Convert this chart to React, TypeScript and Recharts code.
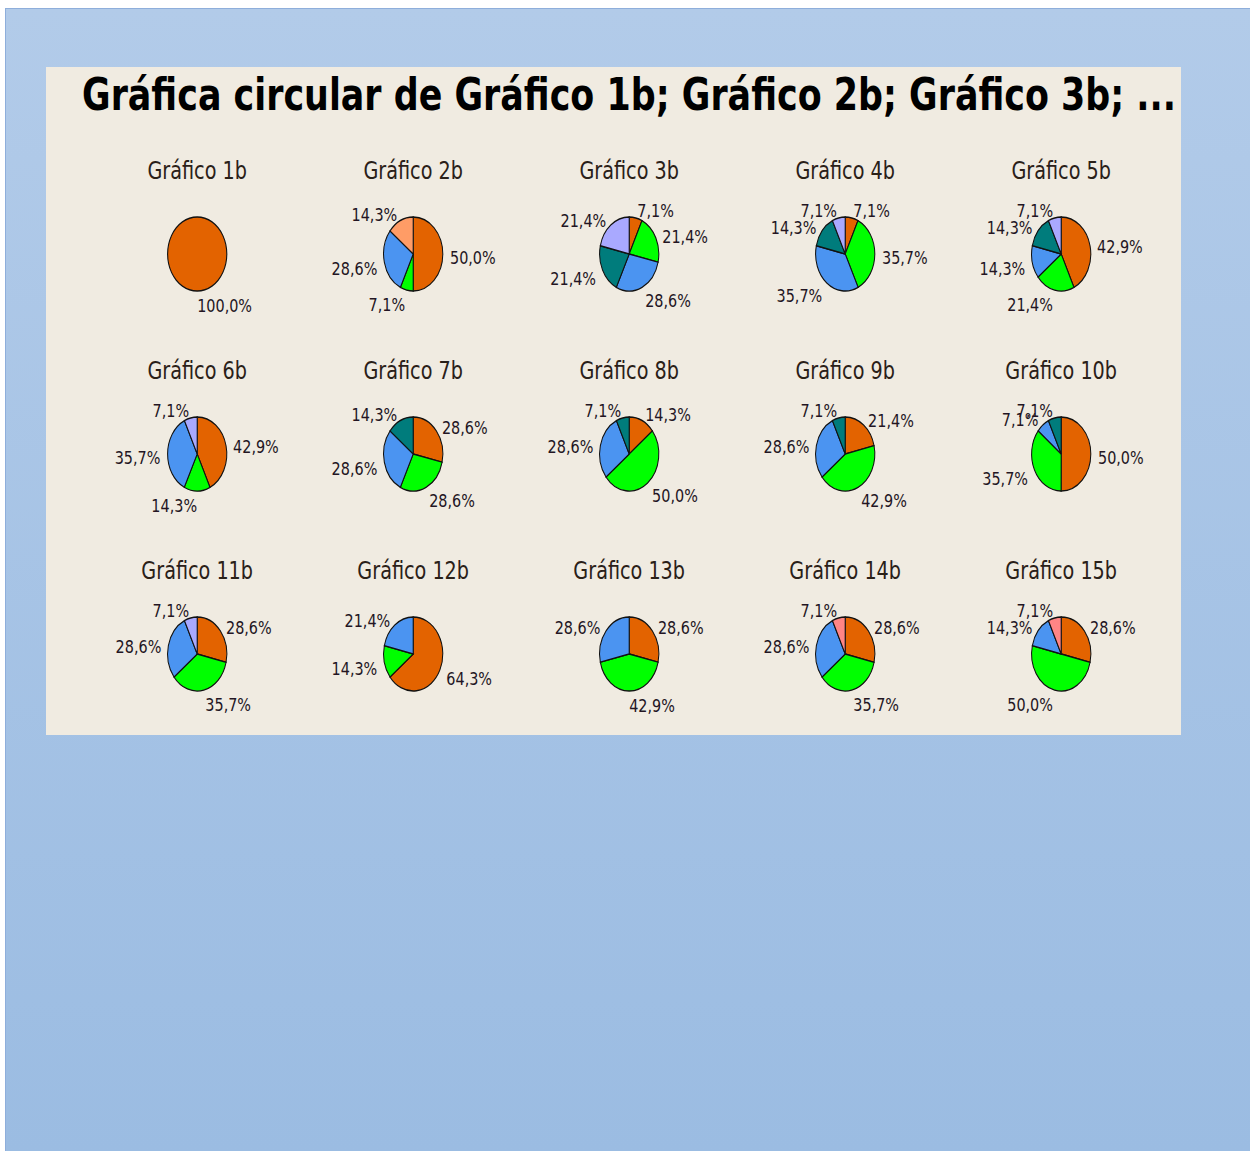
import { PieChart, Pie, Cell } from 'recharts'

// slice colours (Minitab-like palette), keyed by category
const COLORS: Record<string, string> = {
  o: '#e36300', // orange
  g: '#00ff00', // green
  b: '#4b94f1', // blue
  t: '#007c7c', // teal
  l: '#a9a9ff', // lavender
  p: '#ff9c66', // peach
  r: '#ff8585', // pink
}

const titles = [
  'Gráfico 1b', 'Gráfico 2b', 'Gráfico 3b', 'Gráfico 4b', 'Gráfico 5b',
  'Gráfico 6b', 'Gráfico 7b', 'Gráfico 8b', 'Gráfico 9b', 'Gráfico 10b',
  'Gráfico 11b', 'Gráfico 12b', 'Gráfico 13b', 'Gráfico 14b', 'Gráfico 15b',
]

// categories of each pie, in drawing order (clockwise from 12 o'clock)
const sliceCats = [
  ['o'],
  ['o', 'g', 'b', 'p'],
  ['o', 'g', 'b', 't', 'l'],
  ['o', 'g', 'b', 't', 'l'],
  ['o', 'g', 'b', 't', 'l'],
  ['o', 'g', 'b', 'l'],
  ['o', 'g', 'b', 't'],
  ['o', 'g', 'b', 't'],
  ['o', 'g', 'b', 't'],
  ['o', 'g', 'b', 't'],
  ['o', 'g', 'b', 'l'],
  ['o', 'g', 'b'],
  ['o', 'g', 'b'],
  ['o', 'g', 'b', 'r'],
  ['o', 'g', 'b', 'r'],
]

// percentages per pie
const sliceValues = [
  [100.0],
  [50.0, 7.1, 28.6, 14.3],
  [7.1, 21.4, 28.6, 21.4, 21.4],
  [7.1, 35.7, 35.7, 14.3, 7.1],
  [42.9, 21.4, 14.3, 14.3, 7.1],
  [42.9, 14.3, 35.7, 7.1],
  [28.6, 28.6, 28.6, 14.3],
  [14.3, 50.0, 28.6, 7.1],
  [21.4, 42.9, 28.6, 7.1],
  [50.0, 35.7, 7.1, 7.1],
  [28.6, 35.7, 28.6, 7.1],
  [64.3, 14.3, 21.4],
  [28.6, 42.9, 28.6],
  [28.6, 35.7, 28.6, 7.1],
  [28.6, 50.0, 14.3, 7.1],
]

const mainTitle = 'Gráfica circular de Gráfico 1b; Gráfico 2b; Gráfico 3b; ...'

const RADIAN = Math.PI / 180
const R = 37

function fmt(v: number) {
  return `${v.toFixed(1).replace('.', ',')}%`
}

function renderLabel(props: any) {
  const { cx, cy, midAngle, outerRadius, value } = props
  const cos = Math.cos(-midAngle * RADIAN)
  const sin = Math.sin(-midAngle * RADIAN)
  const x = cx + (outerRadius + 9) * cos
  const y = cy + 4 + (outerRadius + 11) * sin
  return (
    <text
      x={x}
      y={y}
      fill="#231523"
      fontSize={18}
      fontFamily="DejaVu Sans"
      textAnchor={cos >= -0.001 ? 'start' : 'end'}
      dominantBaseline="central"
    >
      {fmt(value)}
    </text>
  )
}

function SmallPie({ idx }: { idx: number }) {
  const data = sliceValues[idx].map((v, i) => ({ name: sliceCats[idx][i], value: v }))
  const single = data.length === 1
  return (
    <div style={{ width: 270, height: 200 }}>
      <div
        style={{
          height: 40,
          lineHeight: '40px',
          textAlign: 'center',
          fontSize: 24,
          fontFamily: 'DejaVu Sans',
          color: '#2a2018',
        }}
      >
        {titles[idx]}
      </div>
      <PieChart width={270} height={160} margin={{ top: 0, right: 0, bottom: 0, left: 0 }}>
        <Pie
          data={data}
          dataKey="value"
          cx={135}
          cy={63}
          outerRadius={R}
          startAngle={90}
          endAngle={-270}
          stroke="#111"
          strokeWidth={1.3}
          label={renderLabel}
          labelLine={false}
          isAnimationActive={false}
        >
          {data.map((d, i) => (
            <Cell key={i} fill={COLORS[d.name]} stroke={single ? 'none' : '#111'} />
          ))}
        </Pie>
        {single && (
          <Pie
            data={data}
            dataKey="value"
            cx={135}
            cy={63}
            innerRadius={R - 0.7}
            outerRadius={R + 0.7}
            startAngle={90}
            endAngle={-270}
            fill="#111"
            stroke="none"
            isAnimationActive={false}
          />
        )}
      </PieChart>
    </div>
  )
}

export default function App() {
  return (
    <div
      style={{
        position: 'absolute',
        left: 5,
        top: 8,
        width: 1245,
        height: 1143,
        boxSizing: 'border-box',
        background: 'linear-gradient(#b2cbe9, #9bbce2)',
        borderTop: '1px solid #8eaedb',
        borderLeft: '1px solid #8eaedb',
        overflow: 'hidden',
      }}
    >
      <div
        style={{
          position: 'absolute',
          left: 40,
          top: 58,
          width: 1135,
          height: 668,
          background: '#f0ebe1',
          overflow: 'hidden',
        }}
      >
        {/* everything is drawn wide and squeezed horizontally, like the original */}
        <div
          style={{
            position: 'relative',
            width: 1419,
            height: 668,
            transform: 'scaleX(0.8)',
            transformOrigin: '0 0',
          }}
        >
          <div
            style={{
              position: 'absolute',
              left: 45,
              top: 0,
              height: 56,
              lineHeight: '56px',
              whiteSpace: 'nowrap',
              fontFamily: 'DejaVu Sans',
              fontWeight: 'bold',
              fontSize: 43.6,
              color: '#000',
            }}
          >
            {mainTitle}
          </div>
          <div
            style={{
              position: 'absolute',
              left: 54,
              top: 84,
              display: 'grid',
              gridTemplateColumns: 'repeat(5, 270px)',
            }}
          >
            {titles.map((_, i) => (
              <SmallPie key={i} idx={i} />
            ))}
          </div>
        </div>
      </div>
    </div>
  )
}
